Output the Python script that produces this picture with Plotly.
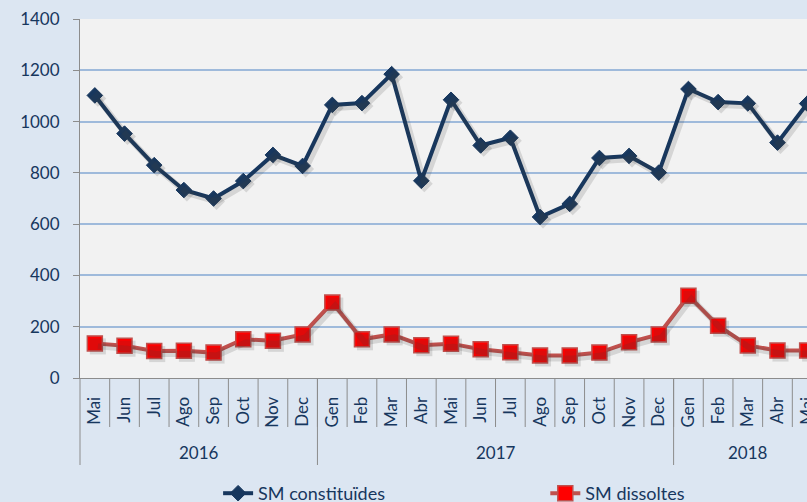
import plotly.graph_objects as go

months = ["Mai", "Jun", "Jul", "Ago", "Sep", "Oct", "Nov", "Dec",
          "Gen", "Feb", "Mar", "Abr", "Mai", "Jun", "Jul", "Ago", "Sep", "Oct", "Nov", "Dec",
          "Gen", "Feb", "Mar", "Abr", "Mai"]
years = ["2016", "2017", "2018"]
year_counts = [8, 12, 5]

sm_constituides = [1102, 953, 830, 733, 700, 768, 870, 827,
                   1065, 1072, 1185, 769, 1085, 907, 937, 628, 679, 858, 866, 801,
                   1127, 1076, 1071, 918, 1070]
sm_dissoltes = [135, 126, 105, 106, 99, 151, 145, 170,
                294, 151, 170, 128, 134, 112, 100, 88, 88, 99, 139, 170,
                321, 204, 127, 107, 107]

idx = list(range(len(months)))

NAVY = "#17375e"
RED_LINE = "#c0504d"
GRID = "#9fbadb"
AXIS = "#8c8c8c"
FONT = "Lato"
SHADOW = "rgba(60,60,60,0.16)"

# layout geometry (pixels)
W, H = 830, 525
L, T = 80, 19
PLOT_W, PLOT_H = 742, 359
SH = 3  # shadow offset
AREA_W, AREA_H = PLOT_W + SH, PLOT_H + SH
R = W - L - AREA_W
B = H - T - AREA_H
X_BOTTOM = T + PLOT_H  # pixel y of x axis


def py(y):
    return (T + AREA_H - y) / AREA_H


def px(x):
    return (x - L) / AREA_W


fig = go.Figure()
# soft shadows (same data, drawn on an offset copy of the axes)
fig.add_trace(go.Scatter(
    x=idx, y=sm_constituides, mode="lines+markers", xaxis="x2", yaxis="y2",
    line=dict(color=SHADOW, width=6),
    marker=dict(symbol="diamond", size=13, color=SHADOW),
    showlegend=False, hoverinfo="skip"))
fig.add_trace(go.Scatter(
    x=idx, y=sm_dissoltes, mode="lines+markers", xaxis="x2", yaxis="y2",
    line=dict(color=SHADOW, width=6),
    marker=dict(symbol="square", size=16, color=SHADOW),
    showlegend=False, hoverinfo="skip"))

fig.add_trace(go.Scatter(
    x=idx, y=sm_constituides, name="SM constituïdes", mode="lines+markers",
    line=dict(color=NAVY, width=4),
    marker=dict(symbol="diamond", size=12, color=NAVY, line=dict(color=NAVY, width=1)),
    legend="legend"))
fig.add_trace(go.Scatter(
    x=idx, y=sm_dissoltes, name="SM dissoltes", mode="lines+markers",
    line=dict(color=RED_LINE, width=4),
    marker=dict(symbol="square", size=15, color="#ff0000", line=dict(color=RED_LINE, width=1.5)),
    legend="legend2"))

shapes = [dict(type="rect", xref="paper", yref="paper", x0=0, x1=PLOT_W / AREA_W,
               y0=py(X_BOTTOM), y1=1, fillcolor="#f2f2f2", line=dict(width=0), layer="below")]
# month separators
for i in range(1, len(months) + 1):
    shapes.append(dict(type="line", xref="x", yref="paper", x0=i - 0.5, x1=i - 0.5,
                       y0=py(X_BOTTOM), y1=py(427), line=dict(color=AXIS, width=1)))
# year separators
start = 0
for c in year_counts[:-1]:
    start += c
    shapes.append(dict(type="line", xref="x", yref="paper", x0=start - 0.5, x1=start - 0.5,
                       y0=py(X_BOTTOM), y1=py(465), line=dict(color=AXIS, width=1)))
shapes.append(dict(type="line", xref="paper", yref="paper", x0=0, x1=0,
                   y0=py(X_BOTTOM), y1=py(465), line=dict(color=AXIS, width=1)))

annotations = []
start = 0
for y, c in zip(years, year_counts):
    annotations.append(dict(text=y, xref="x", yref="paper", x=start + (c - 1) / 2, y=py(452),
                            showarrow=False, font=dict(family=FONT, size=17, color=NAVY),
                            xanchor="center", yanchor="middle"))
    start += c

fig.update_layout(
    width=W, height=H,
    margin=dict(l=L, r=R, t=T, b=B),
    paper_bgcolor="#dce6f2", plot_bgcolor="rgba(0,0,0,0)",
    font=dict(family=FONT, size=17, color=NAVY),
    xaxis=dict(domain=[0, PLOT_W / AREA_W], anchor="y",
               range=[-0.5, 24.5], tickmode="array", tickvals=idx, ticktext=months,
               tickangle=-90, ticks="", showgrid=False, zeroline=False,
               showline=True, linecolor=AXIS, linewidth=1, ticklabelstandoff=11,
               tickfont=dict(family=FONT, size=17, color=NAVY)),
    yaxis=dict(domain=[SH / AREA_H, 1], anchor="x",
               range=[0, 1400], tickvals=[0, 200, 400, 600, 800, 1000, 1200, 1400],
               showgrid=True, gridcolor=GRID, gridwidth=1.5, zeroline=False,
               showline=True, linecolor=AXIS, linewidth=1, ticks="outside", ticklen=6,
               ticklabelstandoff=10,
               tickcolor=AXIS, tickfont=dict(family=FONT, size=17, color=NAVY)),
    xaxis2=dict(domain=[SH / AREA_W, 1], anchor="y2", range=[-0.5, 24.5], visible=False),
    yaxis2=dict(domain=[0, PLOT_H / AREA_H], anchor="x2", range=[0, 1400], visible=False),
    shapes=shapes, annotations=annotations,
    legend=dict(x=px(218.1), y=py(475), xanchor="left", yanchor="top", orientation="h",
                bgcolor="rgba(0,0,0,0)", font=dict(family=FONT, size=18, color=NAVY)),
    legend2=dict(x=px(545.3), y=py(475), xanchor="left", yanchor="top", orientation="h",
                 bgcolor="rgba(0,0,0,0)", font=dict(family=FONT, size=18, color=NAVY)),
    showlegend=True,
)

fig.write_html("out.html", config={"displayModeBar": False},
               post_script="document.body.style.margin='0';document.body.style.overflow='hidden';")
